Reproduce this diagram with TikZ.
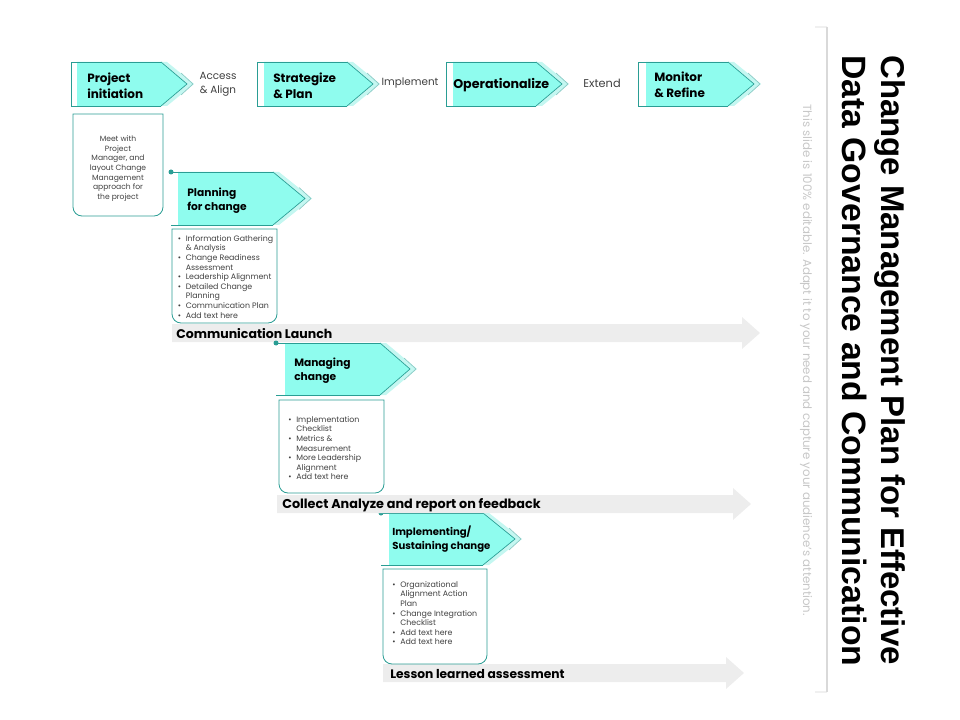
\documentclass[tikz,border=0pt]{standalone}
\usepackage{fontspec}
\setmainfont{Poppins}
\newfontfamily\titlefont{Liberation Sans}

\definecolor{stepfill}{HTML}{8FFCEE}
\definecolor{steppale}{HTML}{C4F7F1}
\definecolor{stepline}{HTML}{2A9D94}
\definecolor{arrowgrey}{HTML}{EDEDED}
\definecolor{bodytext}{HTML}{404040}

\tikzset{
  steptext/.style={anchor=west,align=left,font=\fontsize{9}{12}\selectfont\bfseries,inner sep=0pt},
  lowtext/.style={anchor=west,align=left,font=\fontsize{8}{10.5}\selectfont\bfseries,inner sep=0pt},
  gotext/.style={anchor=center,align=center,text=bodytext,font=\fontsize{7.8}{10.5}\selectfont,inner sep=0pt},
  listtext/.style={anchor=north west,align=left,text=bodytext,font=\fontsize{5.9}{7.2}\selectfont,inner sep=0pt},
  bartext/.style={anchor=west,font=\fontsize{9.4}{11}\selectfont\bfseries,inner sep=0pt},
}

% fill x, top y, end x, tip x, bottom y
\newcommand{\stepshape}[5]{
\fill[steppale] (#3,#2) -- (#3+6,#2) -- (#4+7,{(#2+#5)/2}) -- (#3+6,#5) -- (#3,#5) -- cycle;
\fill[stepfill] (#1,#2) -- (#3,#2) -- (#4,{(#2+#5)/2}) -- (#3,#5) -- (#1,#5) -- cycle;
\draw[stepline,line width=0.5pt] (#3,#2) -- (#4,{(#2+#5)/2}) -- (#3,#5);
\draw[stepline!55,line width=0.5pt] (#4-6,{(#2+#5)/2-11}) -- (#4+6,{(#2+#5)/2}) -- (#4-6,{(#2+#5)/2+11});
}
% rounded at the bottom only
\newcommand{\notebox}[4]{
\draw[stepline,line width=0.6pt] (#1,#2) -- (#3,#2) -- (#3,#4-9) arc (0:90:9 and 9) -- (#1+9,#4) arc (90:180:9 and 9) -- cycle;
}
% left x, right tip x, mid y
\newcommand{\greybar}[3]{
\fill[arrowgrey] (#1,#3-9) -- (#2-18,#3-9) -- (#2-18,#3-16) -- (#2,#3) -- (#2-18,#3+16) -- (#2-18,#3+9) -- (#1,#3+9) -- cycle;
}
\newcommand{\bl}{\makebox[6pt][l]{\textbullet}}
\newcommand{\ind}{\hspace*{6pt}}

\begin{document}
\begin{tikzpicture}[x=0.75pt,y=-0.75pt]
\useasboundingbox (0,0) rectangle (960,720);

% top row
\stepshape{77}{62}{161}{187}{106}
\stepshape{264}{62}{347}{373}{106}
\stepshape{453}{62}{536}{562}{106}
\stepshape{646}{62}{728}{754}{106}
\draw[stepline,line width=0.6pt] (161,62) -- (71,62) -- (71,106) -- (161,106);
\draw[stepline,line width=0.6pt] (347,62) -- (257,62) -- (257,106) -- (347,106);
\draw[stepline,line width=0.6pt] (536,62) -- (446,62) -- (446,106) -- (536,106);
\draw[stepline,line width=0.6pt] (728,62) -- (638,62) -- (638,106) -- (728,106);
\node[steptext] (initiation) at (87,85.5) {Project\\initiation};
\node[steptext] (strategize) at (273,85.5) {Strategize\\\& Plan};
\node[steptext,font=\fontsize{9.5}{12}\selectfont\bfseries] (operational) at (453,85) {Operationalize};
\node[steptext] (monitor) at (654,84.5) {Monitor\\\& Refine};
\node[gotext] (access) at (218,84) {Access\\\& Align};
\node[gotext] (implement) at (410,83.5) {Implement};
\node[gotext,font=\fontsize{8.5}{10.5}\selectfont] (extend) at (602,83.5) {Extend};

\greybar{172}{760}{333}
\greybar{383}{744}{673}

% first note
\notebox{73}{114}{163}{216}
\node[gotext,font=\fontsize{5.7}{7.2}\selectfont] (meet) at (118,168.5) {Meet with\\Project\\Manager, and\\layout Change\\Management\\approach for\\the project};

% planning
\stepshape{178}{172}{273}{305}{225}
\draw[stepline,line width=0.6pt] (171,172) -- (273,172);
\draw[stepline,line width=0.6pt] (171,225) -- (273,225);
\fill[stepline] (171,172) circle (2.5);
\node[lowtext] (planning) at (187,200.5) {Planning\\for change};
\notebox{172}{229}{277}{323}
\node[listtext] (planlist) at (177.5,235) {\bl Information Gathering\\\ind \& Analysis\\\bl Change Readiness\\\ind Assessment\\\bl Leadership Alignment\\\bl Detailed Change\\\ind Planning\\\bl Communication Plan\\\bl Add text here};
\node[bartext] (launch) at (176,334) {Communication Launch};

% managing
\stepshape{285}{343}{380}{410}{395}
\draw[stepline,line width=0.6pt] (276,343) -- (380,343);
\draw[stepline,line width=0.6pt] (276,395) -- (380,395);
\fill[stepline] (276,343) circle (2.5);
\node[lowtext] (managing) at (294,370.5) {Managing\\change};
\notebox{279}{400}{384}{493}
\node[listtext] (managelist) at (288,416) {\bl Implementation\\\ind Checklist\\\bl Metrics \&\\\ind Measurement\\\bl More Leadership\\\ind Alignment\\\bl Add text here};

% implementing
\stepshape{389}{513}{483}{515}{565}
\draw[stepline,line width=0.6pt] (381,513) -- (483,513);
\draw[stepline,line width=0.6pt] (381,565) -- (483,565);
\fill[stepline] (381,513) circle (2.5);
\greybar{277}{751}{504}
\node[bartext,font=\fontsize{9.6}{11}\selectfont\bfseries] (collect) at (282,505.5) {Collect Analyze and report on feedback};
\node[lowtext,font=\fontsize{7.6}{10.5}\selectfont\bfseries] (implementing) at (392,539.5) {Implementing/\\Sustaining change};
\notebox{383}{569}{487}{664}
\node[listtext] (implementlist) at (392,581) {\bl Organizational\\\ind Alignment Action\\\ind Plan\\\bl Change Integration\\\ind Checklist\\\bl Add text here\\\bl Add text here};
\node[bartext,font=\fontsize{9.2}{11}\selectfont\bfseries] (lesson) at (390,674) {Lesson learned assessment};

% side panel
\draw[black!6,line width=1pt] (815,27) -- (827,27);
\draw[black!6,line width=1pt] (815,692) -- (827,692);
\draw[black!15,line width=1pt] (827,27) -- (827,692);
\node[anchor=north west,rotate=-90,inner sep=0pt,align=left,font=\titlefont\fontsize{24.7}{29.25}\selectfont\bfseries] (title) at (906,55) {Change Management Plan for Effective\\\fontsize{25.3}{29.25}\selectfont Data Governance and Communication};
\node[anchor=west,rotate=-90,inner sep=0pt,text=black!22,font=\fontsize{8.85}{10}\selectfont] (subtitle) at (806,104) {This slide is 100\% editable. Adapt it to your need and capture your audience's attention.};
\end{tikzpicture}
\end{document}
